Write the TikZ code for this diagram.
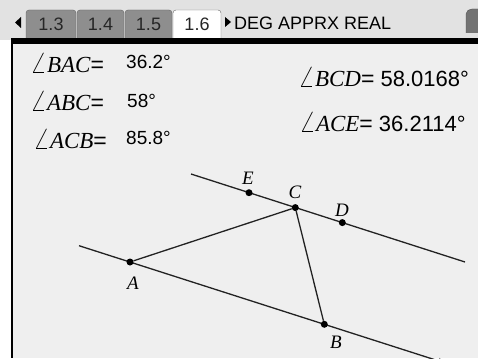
\documentclass[tikz,border=0pt]{standalone}
\usepackage{fontspec}
\setmainfont{Liberation Serif}
\setsansfont{Liberation Sans}
\usetikzlibrary{arrows.meta, positioning}
\definecolor{barbg}{HTML}{E2E2E2}
\definecolor{screenbg}{HTML}{EFEFEF}
\definecolor{tabgray}{HTML}{8E8E8E}
\definecolor{inkgray}{HTML}{222222}
\newcommand{\angmeas}[1]{\scalebox{1.25}{$\angle$}\textit{#1}\textsf{=}}

\begin{document}
\begin{tikzpicture}[x=1pt, y=-1pt,
                    pt/.style={circle, fill=black, inner sep=0pt, minimum size=7pt},
                    lbl/.style={inner sep=0pt, font=\fontsize{19}{19}\selectfont\itshape},
                    meas/.style={anchor=west, inner sep=0pt, font=\fontsize{23}{23}\selectfont},
                    val/.style={anchor=west, inner sep=0pt, font=\fontsize{19}{19}\selectfont\sffamily},
                    tab/.style={draw=black!60, fill=tabgray, rounded corners=3pt},
                    ln/.style={line width=1.3pt, inkgray}]
                \useasboundingbox (0,0) rectangle (478,358);
                \clip (0,0) rectangle (478,358);
                % screen frame
                \fill[barbg] (0,0) rectangle (478,40);
                \fill[white] (0,40) rectangle (478,358);
                \fill[screenbg] (13,44) rectangle (478,358);
                \fill[black] (11,38) rectangle (478,44);
                \fill[black] (11,38) rectangle (13,358);
                % tabs
                \fill[black] (15,22.5) -- (21,17) -- (21,28) -- cycle;
                \foreach \i/\t/\xa/\xb in {1/1.3/26/76, 2/1.4/77/124, 3/1.5/125/172}{
                        \path[tab] (\xa,38) |- (\xb,10) -- (\xb,38);
                        \node[font=\fontsize{18}{18}\selectfont\sffamily, text=black!85] (tab\i) at ({(\xa+\xb)/2},24) {\t};
                    }
                \path[tab, fill=white] (173,38) |- (221,10) -- (221,38);
                \node[font=\fontsize{18}{18}\selectfont\sffamily, text=black!85] (tab4) at (197,24) {1.6};
                \fill[black] (231,22) -- (225,17) -- (225,27) -- cycle;
                \node[anchor=west, inner sep=0pt, font=\fontsize{18}{18}\selectfont\sffamily] (mode) at (234,23) {DEG APPRX REAL};
                \path[draw=black!70, fill=black!55, rounded corners=2pt] (466,33) -- (466,12) -- (470,9) -- (482,9) -- (482,33);
                % measurements
                \node[meas] (m1) at (30,63) {\angmeas{BAC}};
                \node[val] (v1) at (126,62) {36.2°};
                \node[meas] (m2) at (30,101) {\angmeas{ABC}};
                \node[val] (v2) at (127,101) {58°};
                \node[meas] (m3) at (33,139) {\angmeas{ACB}};
                \node[val] (v3) at (126,138) {85.8°};
                \node[meas] (m4) at (298,77) {\angmeas{BCD}{\fontsize{22}{22}\selectfont\sffamily\ 58.0168°}};
                \node[meas] (m5) at (299,122) {\angmeas{ACE}{\fontsize{22}{22}\selectfont\sffamily\ 36.2114°}};
                % parallel lines and triangle
                \coordinate (t1) at (191,174);
                \coordinate (t2) at (465,262);
                \coordinate (b1) at (79,245.7);
                \coordinate (b2) at (446,363.3);
                \draw[ln] (t1) -- (t2);
                \draw[ln, -{Stealth[length=8pt]}] (b1) -- (b2);
                \node[pt] (E) at (249,192.7) {};
                \node[pt] (C) at (295.3,207.6) {};
                \node[pt] (D) at (342.3,222.6) {};
                \node[pt] (A) at (130,262) {};
                \node[pt] (B) at (324.3,324.3) {};
                \draw[ln] (A) -- (C) -- (B);
                \node[lbl] (lE) at (248,178) {E};
                \node[lbl] (lC) at (295,192) {C};
                \node[lbl] (lD) at (342,210) {D};
                \node[lbl] (lA) at (133,283) {A};
                \node[lbl] (lB) at (336,342) {B};
            \end{tikzpicture}
\end{document}
